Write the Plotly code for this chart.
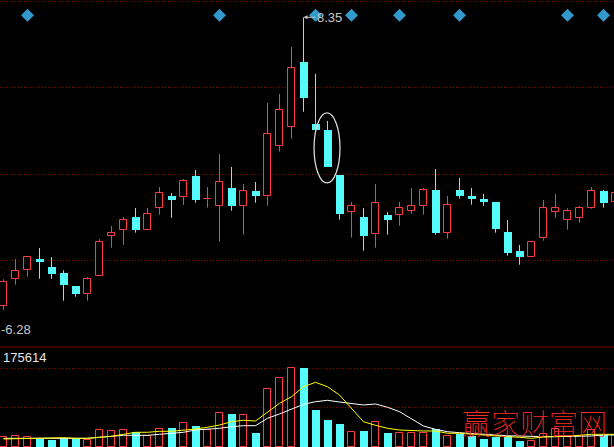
import plotly.graph_objects as go

# ---------------- data ----------------
opens = [6.435, 6.614, 6.670, 6.745, 6.692, 6.652, 6.566, 6.515, 6.634, 6.900,
         6.940, 7.024, 6.940, 7.086, 7.164, 7.159, 7.296, 7.142, 7.099, 7.217,
         7.099, 7.197, 7.162, 7.498, 7.624, 8.053, 7.642, 7.602, 7.303, 7.059,
         7.024, 6.909, 7.037, 7.039, 7.066, 7.099, 7.203, 6.920, 7.203, 7.164,
         7.144, 7.124, 6.924, 6.798, 6.760, 6.883, 7.059, 7.006, 7.019, 7.086,
         7.197, 7.126]
closes = [6.590, 6.664, 6.756, 6.727, 6.648, 6.575, 6.515, 6.610, 6.856, 6.916,
          7.002, 6.940, 7.042, 7.181, 7.137, 7.261, 7.139, 7.146, 7.254, 7.099,
          7.195, 7.166, 7.573, 7.733, 8.011, 7.816, 7.604, 7.358, 7.046, 7.097,
          6.900, 7.115, 7.006, 7.082, 7.095, 7.201, 6.920, 7.102, 7.166, 7.146,
          7.126, 6.946, 6.787, 6.760, 6.856, 7.082, 7.082, 7.062, 7.082, 7.197,
          7.117, 7.183]
highs = [6.610, 6.745, 6.765, 6.818, 6.758, 6.670, 6.566, 6.626, 6.876, 6.964,
         7.024, 7.084, 7.084, 7.223, 7.183, 7.276, 7.336, 7.223, 7.442, 7.356,
         7.243, 7.256, 7.781, 7.841, 8.153, 8.350, 7.974, 7.662, 7.303, 7.124,
         7.084, 7.243, 7.057, 7.124, 7.217, 7.217, 7.343, 7.164, 7.283, 7.217,
         7.177, 7.124, 7.004, 6.838, 6.865, 7.137, 7.177, 7.082, 7.097, 7.223,
         7.203, 7.190]
lows = [6.407, 6.575, 6.628, 6.614, 6.614, 6.468, 6.495, 6.468, 6.634, 6.820,
        6.840, 6.920, 6.940, 7.039, 7.019, 7.104, 7.119, 7.086, 6.860, 7.066,
        6.907, 7.119, 7.099, 7.458, 7.544, 7.723, 7.604, 7.358, 7.006, 6.887,
        6.800, 6.820, 6.907, 6.966, 7.046, 7.039, 6.907, 6.880, 7.146, 7.106,
        7.099, 6.920, 6.767, 6.707, 6.760, 6.867, 7.019, 6.940, 6.986, 7.079,
        7.086, 7.126]
volumes = [21600, 23800, 21600, 19300, 15600, 19300, 18500, 15600, 37100, 34900,
           37100, 32700, 23800, 39300, 42200, 52700, 46000, 37800, 74900, 73400,
           70500, 31100, 128300, 152700, 174900, 175614, 82300, 60000, 51100, 32700,
           35600, 54900, 31100, 30500, 30500, 30500, 39300, 23800, 28900, 25100,
           17800, 22900, 24500, 13300, 12700, 29600, 39300, 21600, 25100, 37800,
           26700, 26700]
vol_ma5 = [17800, 18500, 19300, 20700, 20700, 20700, 19300, 19300, 21600, 23800,
           28200, 32700, 32700, 34900, 34900, 37100, 40000, 43800, 48900, 56200,
           59400, 57800, 78500, 97100, 111800, 134000, 143800, 134000, 115600, 86000,
           56200, 48200, 41600, 37800, 36200, 35600, 35600, 30500, 30500, 28200,
           26000, 23800, 22900, 21600, 19300, 22200, 22900, 24500, 26000, 28200,
           28200, 28200]
vol_ma10 = [19300, 18500, 19300, 19300, 19300, 19300, 19300, 19300, 21600, 23800,
            26000, 26000, 26000, 28200, 30500, 32700, 37800, 39300, 41600, 45100,
            47400, 47400, 63800, 73400, 84500, 94900, 100700, 103800, 100000, 97100,
            93400, 95600, 88300, 78500, 62200, 46700, 39300, 34000, 31800, 29600,
            28200, 26700, 25100, 23800, 22900, 22900, 22900, 22900, 22900, 24500,
            26700, 26700]
signal_idx = [2, 18, 26, 29, 33, 38, 47, 50]
high_label = 8.35
low_label = 6.28
vol_label = "175614"
price_grid = [8.456, 7.885, 7.308, 6.737]
vol_grid = [87807, 175614]
watermark = "赢家财富网"

# ---------------- styling / geometry ----------------
W, H = 614, 447
RED = "#FF3C3C"
CYAN = "#54FCFC"
GRID = "#8B0000"
SEP = "#7A0000"
LABEL = "#C8C8C8"
STEP = 12.0          # px per candle
X0 = 3.5             # px centre of first candle
VOL_H = 100          # px height of volume pane
PX_PER_PRICE = 150.6
HIGH_Y_PX = 17.3
VOL_PER_PX = 175614 / 79.0

n = len(opens)
xs = list(range(n))
x_range = [-X0 / STEP, (W - X0) / STEP]
p_top = high_label + HIGH_Y_PX / PX_PER_PRICE
p_bot = p_top - (H - VOL_H) / PX_PER_PRICE
v_top = VOL_H * VOL_PER_PX
split = VOL_H / H

up = [i for i in xs if closes[i] >= opens[i]]
dn = [i for i in xs if closes[i] < opens[i]]


def wicks(idx):
    wx, wy = [], []
    for i in idx:
        top = max(opens[i], closes[i])
        bot = min(opens[i], closes[i])
        if highs[i] > top:
            wx += [i, i, None]
            wy += [top, highs[i], None]
        if lows[i] < bot:
            wx += [i, i, None]
            wy += [lows[i], bot, None]
    return wx, wy


fig = go.Figure()

# wicks
for idx, col in ((up, RED), (dn, CYAN)):
    wx, wy = wicks(idx)
    fig.add_trace(go.Scatter(x=wx, y=wy, mode="lines", line=dict(color=col, width=1),
                             hoverinfo="skip", xaxis="x", yaxis="y", showlegend=False))

# bodies
fig.add_trace(go.Bar(x=up, y=[closes[i] - opens[i] for i in up], base=[opens[i] for i in up],
                     width=7 / STEP, marker=dict(color="black", line=dict(color=RED, width=1)),
                     xaxis="x", yaxis="y", showlegend=False, hoverinfo="skip"))
fig.add_trace(go.Bar(x=dn, y=[opens[i] - closes[i] for i in dn], base=[closes[i] for i in dn],
                     width=8 / STEP, marker=dict(color=CYAN, line=dict(width=0)),
                     xaxis="x", yaxis="y", showlegend=False, hoverinfo="skip"))

# signal diamonds
diamond_y = p_top - 15.3 / PX_PER_PRICE
fig.add_trace(go.Scatter(x=signal_idx, y=[diamond_y] * len(signal_idx), mode="markers",
                         marker=dict(symbol="diamond", size=10, color="#3399CC"),
                         xaxis="x", yaxis="y", showlegend=False, hoverinfo="skip"))

# volume bars
fig.add_trace(go.Bar(x=up, y=[volumes[i] for i in up], width=7 / STEP,
                     marker=dict(color="black", line=dict(color=RED, width=1)),
                     xaxis="x2", yaxis="y2", showlegend=False, hoverinfo="skip"))
fig.add_trace(go.Bar(x=dn, y=[volumes[i] for i in dn], width=8 / STEP,
                     marker=dict(color=CYAN, line=dict(width=0)),
                     xaxis="x2", yaxis="y2", showlegend=False, hoverinfo="skip"))
fig.add_trace(go.Scatter(x=xs, y=vol_ma10, mode="lines", line=dict(color="#FFFFFF", width=1),
                         xaxis="x2", yaxis="y2", showlegend=False, hoverinfo="skip"))
fig.add_trace(go.Scatter(x=xs, y=vol_ma5, mode="lines", line=dict(color="#FFFF00", width=1),
                         xaxis="x2", yaxis="y2", showlegend=False, hoverinfo="skip"))

ax_common = dict(showticklabels=False, zeroline=False, showline=False, ticks="")
fig.update_layout(
    width=W, height=H, margin=dict(l=0, r=0, t=0, b=0),
    paper_bgcolor="black", plot_bgcolor="black",
    barmode="overlay", bargap=0, showlegend=False, hovermode=False,
    xaxis=dict(range=x_range, showgrid=False, domain=[0, 1], **ax_common),
    xaxis2=dict(range=x_range, showgrid=False, domain=[0, 1], anchor="y2", **ax_common),
    yaxis=dict(range=[p_bot, p_top], domain=[split, 1], tickvals=price_grid,
               showgrid=True, gridcolor=GRID, gridwidth=1, griddash="1px,2px", **ax_common),
    yaxis2=dict(range=[0, v_top], domain=[0, split], tickvals=vol_grid, anchor="x2",
                showgrid=True, gridcolor=GRID, gridwidth=1, griddash="1px,2px", **ax_common),
    shapes=[
        dict(type="line", xref="paper", yref="paper", x0=0, x1=1, y0=split, y1=split,
             line=dict(color=SEP, width=1)),
        dict(type="circle", xref="x", yref="y",
             x0=26.96 - 1.08, x1=26.96 + 1.08, y0=7.250, y1=7.715,
             line=dict(color="#D8D8D8", width=1.3)),
    ],
)

hi_idx = highs.index(max(highs))
font_lbl = dict(family="Liberation Sans Narrow, Liberation Sans, Arial", size=13, color=LABEL)
fig.add_annotation(x=hi_idx, y=high_label, xref="x", yref="y", text=f"{high_label:.2f}",
                   showarrow=True, ax=26, ay=0, arrowhead=2, arrowsize=0.8, arrowwidth=1,
                   arrowcolor=LABEL, standoff=0, font=font_lbl)
fig.add_annotation(x=0, y=low_label, xref="paper", yref="y", text=f"-{low_label:.2f}",
                   showarrow=False, xanchor="left", yanchor="middle", xshift=-1, font=font_lbl)
fig.add_annotation(x=0, y=(H - 357.7) / H, xref="paper", yref="paper", text=vol_label,
                   showarrow=False, xanchor="left", yanchor="middle", xshift=1,
                   font=dict(family="Liberation Sans Narrow, Liberation Sans, Arial", size=13,
                             color="#E6E6E6"))
fig.add_annotation(x=534 / W, y=(H - 422) / H, xref="paper", yref="paper", text=watermark,
                   showarrow=False, xanchor="center", yanchor="middle",
                   font=dict(family="Noto Sans CJK SC", size=29, color="#FF2A2A", weight=100))

fig.write_html("out.html", config={"displayModeBar": False},
               post_script="document.body.style.margin='0';document.body.style.background='black';")
